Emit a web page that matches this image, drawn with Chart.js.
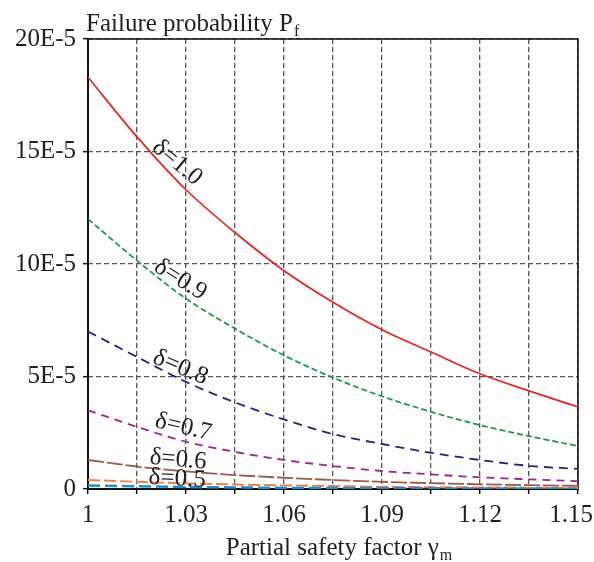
<!DOCTYPE html>
<html>
<head>
<meta charset="utf-8">
<script src="https://cdn.jsdelivr.net/npm/chart.js@4/dist/chart.umd.min.js"></script>
<style>
  html, body { margin: 0; padding: 0; background: #fff; }
  #wrap { width: 594px; height: 562px; position: relative; }
</style>
</head>
<body>
<div id="wrap"><canvas id="c" width="594" height="562"></canvas></div>
<script>
// ── Data (failure probability in units of 1E-5) ───────────────────────────

const GAMMA_M = [1, 1.015, 1.03, 1.045, 1.06, 1.075, 1.09, 1.105, 1.12, 1.135, 1.15];

const PF_D10 = [18.3, 15.65, 13.3, 11.4, 9.7, 8.3, 7.08, 6.09, 5.12, 4.36, 3.65];
const PF_D09 = [12.0, 10.15, 8.46, 7.13, 5.94, 4.95, 4.12, 3.43, 2.84, 2.35, 1.91];
const PF_D08 = [7.0, 5.87, 4.76, 3.85, 3.09, 2.44, 2.0, 1.61, 1.29, 1.03, 0.89];
const PF_D07 = [3.5, 2.76, 2.1, 1.65, 1.29, 1.02, 0.8, 0.65, 0.52, 0.43, 0.35];
const PF_D06 = [1.29, 1.0, 0.78, 0.62, 0.5, 0.4, 0.32, 0.26, 0.21, 0.17, 0.14];
const PF_D05 = [0.4, 0.32, 0.25, 0.2, 0.16, 0.13, 0.1, 0.08, 0.07, 0.06, 0.05];
const PF_D04 = [0.16, 0.12, 0.09, 0.07, 0.05, 0.04, 0.03, 0.03, 0.02, 0.02, 0.01];

const X_TICKS = [1, 1.015, 1.03, 1.045, 1.06, 1.075, 1.09, 1.105, 1.12, 1.135, 1.15];
const X_TICK_LABELS = ['1', '', '1.03', '', '1.06', '', '1.09', '', '1.12', '', '1.15'];
const Y_TICKS = [0, 5, 10, 15, 20];
const Y_TICK_LABELS = ['0', '5E-5', '10E-5', '15E-5', '20E-5'];

// ── Style ─────────────────────────────────────────────────────────────────

const FONT = '"Liberation Serif", "Times New Roman", serif';
const INK = '#231f20';

const pts = arr => arr.map((v, i) => ({ x: GAMMA_M[i], y: v }));

function series(data, color, dash, width) {
  return {
    data: pts(data),
    borderColor: color,
    borderWidth: width,
    borderDash: dash,
    pointRadius: 0,
    fill: false,
    cubicInterpolationMode: 'monotone',
  };
}

// curve labels, anchored in data units (x = γm, y = Pf in 1E-5)
const curveLabels = [
  { text: 'δ=1.0', x: 1.0273, y: 14.5, rot: 40 },
  { text: 'δ=0.9', x: 1.0283, y: 9.3, rot: 32 },
  { text: 'δ=0.8', x: 1.0283, y: 5.4, rot: 23 },
  { text: 'δ=0.7', x: 1.0292, y: 2.75, rot: 13 },
  { text: 'δ=0.6', x: 1.0276, y: 1.3, rot: 5 },
  { text: 'δ=0.5', x: 1.0273, y: 0.45, rot: 3 },
];

const decorPlugin = {
  id: 'decor',
  beforeDraw(chart) {
    // keep the last x label inside the canvas, as in the original figure
    const items = chart.scales.x.getLabelItems();
    const last = items[items.length - 1];
    if (last && !last._shifted) {
      last.options.translation[0] -= 7;
      last._shifted = true;
    }
  },
  beforeDatasetsDraw(chart) {
    const { ctx, chartArea: a } = chart;
    ctx.save();
    ctx.strokeStyle = '#111';
    ctx.lineWidth = 1.5;
    ctx.strokeRect(a.left, a.top, a.right - a.left, a.bottom - a.top);
    ctx.lineWidth = 2;
    ctx.beginPath();
    ctx.moveTo(a.left, a.top);
    ctx.lineTo(a.left, a.bottom);
    ctx.lineTo(a.right, a.bottom);
    ctx.stroke();
    ctx.restore();
  },
  afterDraw(chart) {
    const { ctx, scales } = chart;
    ctx.save();
    ctx.fillStyle = INK;

    // y title
    ctx.textAlign = 'left';
    ctx.textBaseline = 'alphabetic';
    ctx.font = '25px ' + FONT;
    const t1 = 'Failure probability P';
    ctx.fillText(t1, 86, 31);
    const w1 = ctx.measureText(t1).width;
    ctx.font = '16px ' + FONT;
    ctx.fillText('f', 86 + w1 + 1, 36);

    // x title
    ctx.font = '25px ' + FONT;
    const t2 = 'Partial safety factor γ';
    const w2 = ctx.measureText(t2).width;
    ctx.font = '16px ' + FONT;
    const ws = ctx.measureText('m').width;
    const x0 = (scales.x.left + scales.x.right) / 2 - (w2 + ws + 1) / 2 + 6;
    ctx.font = '25px ' + FONT;
    ctx.fillText(t2, x0, 555);
    ctx.font = '16px ' + FONT;
    ctx.fillText('m', x0 + w2 + 1, 560);

    // curve labels
    ctx.font = '25px ' + FONT;
    ctx.textAlign = 'center';
    ctx.textBaseline = 'middle';
    curveLabels.forEach(l => {
      const px = scales.x.getPixelForValue(l.x);
      const py = scales.y.getPixelForValue(l.y);
      ctx.save();
      ctx.translate(px, py);
      ctx.rotate(l.rot * Math.PI / 180);
      ctx.fillText(l.text, 0, 0);
      ctx.restore();
    });
    ctx.restore();
  },
};

const gridCommon = {
  color: '#555',
  lineWidth: 1.3,
  drawTicks: true,
  tickLength: 5,
  tickColor: '#111',
  tickWidth: 1.5,
  tickBorderDash: [],
};

new Chart(document.getElementById('c'), {
  type: 'line',
  plugins: [decorPlugin],
  data: {
    datasets: [
      series(PF_D04, '#1b8fd6', [12, 5], 2.5),
      series(PF_D05, '#ea8250', [12, 4], 2),
      series(PF_D06, '#9b5a45', [16, 3], 1.8),
      series(PF_D07, '#9c2490', [8, 6], 1.8),
      series(PF_D08, '#2b2080', [9, 6], 1.8),
      series(PF_D09, '#12994a', [6, 3], 1.7),
      series(PF_D10, '#e5261d', [], 1.7),
    ],
  },
  options: {
    responsive: false,
    animation: false,
    devicePixelRatio: 1,
    layout: { padding: { top: 39, right: 16, left: 0, bottom: 0 } },
    plugins: {
      legend: { display: false },
      tooltip: { enabled: false },
    },
    scales: {
      x: {
        type: 'linear',
        min: 1,
        max: 1.15,
        afterBuildTicks: s => { s.ticks = X_TICKS.map(v => ({ value: v })); },
        afterFit: s => { s.height = 73; s.paddingLeft = 0; s.paddingRight = 0; },
        ticks: {
          autoSkip: false,
          maxRotation: 0,
          padding: 6,
          color: INK,
          font: { family: FONT, size: 25 },
          callback: (v, i) => X_TICK_LABELS[i],
        },
        grid: gridCommon,
        border: { display: false, dash: [5, 3] },
      },
      y: {
        type: 'linear',
        min: 0,
        max: 20,
        afterBuildTicks: s => { s.ticks = Y_TICKS.map(v => ({ value: v })); },
        afterFit: s => { s.width = 88; s.paddingTop = 0; s.paddingBottom = 0; },
        ticks: {
          padding: 7,
          color: INK,
          font: { family: FONT, size: 25 },
          callback: (v, i) => Y_TICK_LABELS[i],
        },
        grid: gridCommon,
        border: { display: false, dash: [5, 3] },
      },
    },
  },
});
</script>
</body>
</html>
